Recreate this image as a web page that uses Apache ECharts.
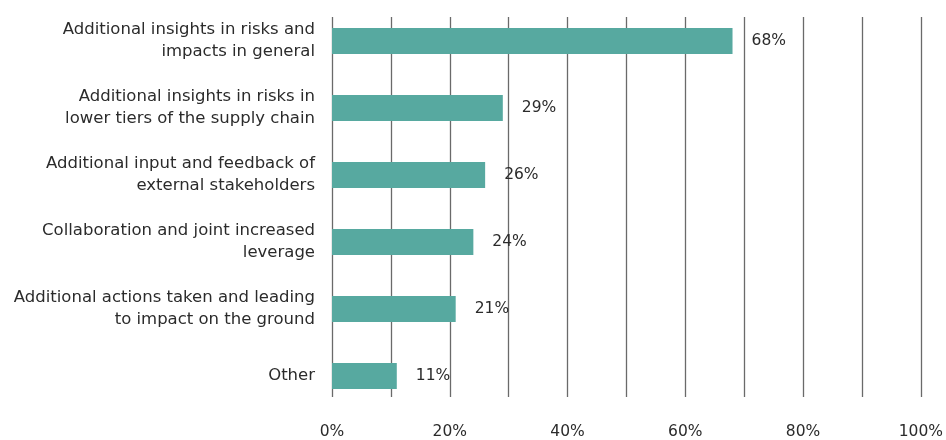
<!DOCTYPE html>
<html>
<head>
<meta charset="utf-8">
<script src="https://cdn.jsdelivr.net/npm/echarts@6/dist/echarts.min.js"></script>
<style>
  html, body { margin: 0; padding: 0; background: #fff; }
  #chart { width: 946px; height: 440px; }
</style>
</head>
<body>
<div id="chart"></div>
<script>
// Survey answers, listed top to bottom
const categories = [
  'Additional insights in risks and\nimpacts in general',
  'Additional insights in risks in\nlower tiers of the supply chain',
  'Additional input and feedback of\nexternal stakeholders',
  'Collaboration and joint increased\nleverage',
  'Additional actions taken and leading\nto impact on the ground',
  'Other'
];
const shares = [68, 29, 26, 24, 21, 11];
const tickValues = [0, 20, 40, 60, 80, 100];

const FONT = '"DejaVu Sans", "Open Sans", sans-serif';
const TEXT = '#2b2b2b';

const chart = echarts.init(document.getElementById('chart'), null, { renderer: 'canvas' });
chart.setOption({
  animation: false,
  grid: [
    // bars
    { left: 332, width: 589, top: 7.5, height: 402 },
    // vertical rules and percent ticks
    { left: 332, width: 589, top: 17, height: 380 }
  ],
  xAxis: [
    {
      gridIndex: 0, type: 'value', min: 0, max: 100, interval: 10,
      axisLine: { show: false }, axisTick: { show: false },
      axisLabel: { show: false }, splitLine: { show: false }
    },
    {
      gridIndex: 1, type: 'value', min: 0, max: 100, interval: 10,
      axisLine: { show: false }, axisTick: { show: false },
      splitLine: { show: true, lineStyle: { color: '#6a6a6a', width: 1.3 } },
      axisLabel: {
        margin: 27, fontFamily: FONT, fontSize: 15.5, color: TEXT,
        formatter: v => tickValues.includes(v) ? v + '%' : ''
      }
    }
  ],
  yAxis: [
    {
      gridIndex: 0, type: 'category', data: categories, inverse: true,
      axisLine: { show: false }, axisTick: { show: false },
      axisLabel: {
        margin: 17, fontFamily: FONT, fontSize: 16.5, color: TEXT,
        lineHeight: 22, align: 'right'
      }
    },
    {
      gridIndex: 1, type: 'category', data: categories, show: false
    }
  ],
  series: [{
    type: 'bar',
    xAxisIndex: 0, yAxisIndex: 0,
    data: shares,
    barWidth: 26,
    itemStyle: { color: '#57a9a0' },
    label: {
      show: true, position: 'right', distance: 19,
      fontFamily: FONT, fontSize: 15.5, color: TEXT,
      formatter: p => p.value + '%'
    },
    z: 3
  }]
});
</script>
</body>
</html>
